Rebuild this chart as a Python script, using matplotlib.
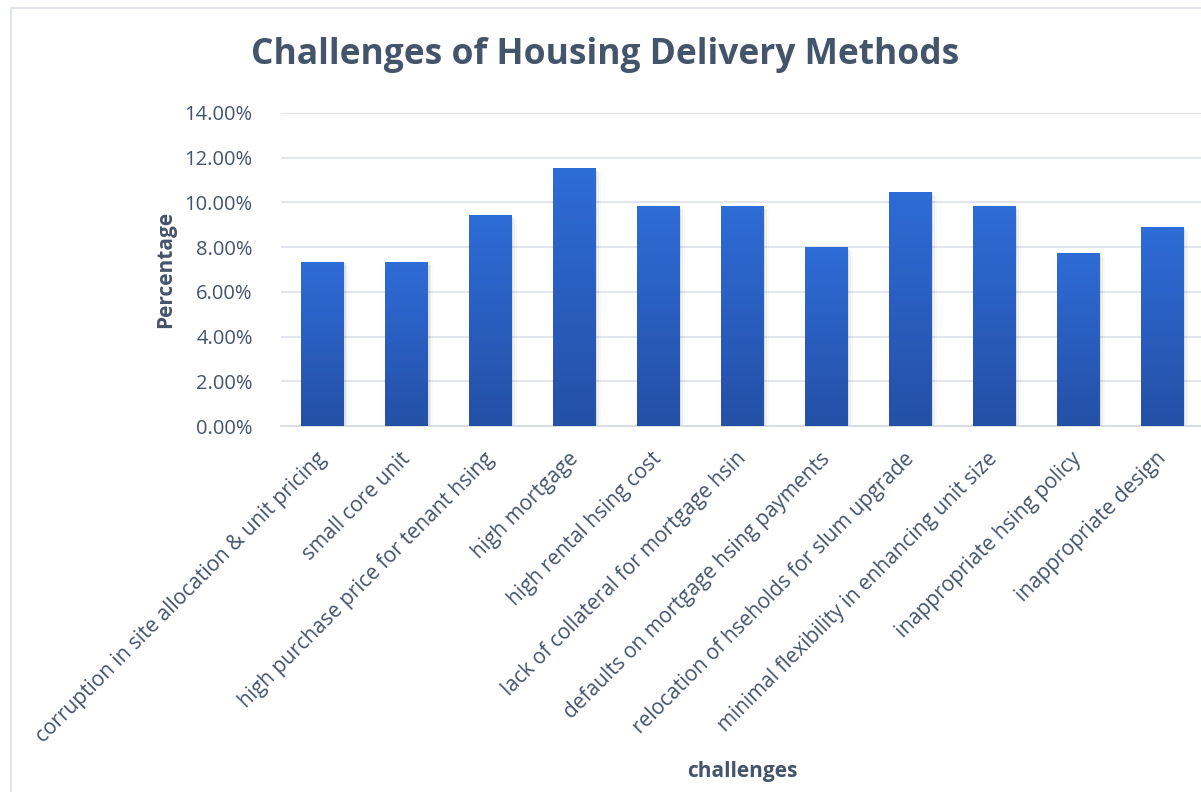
import matplotlib
matplotlib.use("Agg")
import matplotlib.pyplot as plt
import numpy as np
from matplotlib.patches import Rectangle
from matplotlib.colors import LinearSegmentedColormap
from matplotlib.ticker import FuncFormatter
from matplotlib.transforms import ScaledTranslation

categories = [
    "corruption in site allocation & unit pricing",
    "small core unit",
    "high purchase price for tenant hsing",
    "high mortgage",
    "high rental hsing cost",
    "lack of collateral for mortgage hsin",
    "defaults on mortgage hsing payments",
    "relocation of hseholds for slum upgrade",
    "minimal flexibility in enhancing unit size",
    "inappropriate hsing policy",
    "inappropriate design",
]
values = [7.33, 7.33, 9.42, 11.52, 9.82, 9.82, 7.99, 10.47, 9.82, 7.72, 8.90]
yticks = [0, 2, 4, 6, 8, 10, 12, 14]

TXT = "#44546a"
plt.rcParams['font.family'] = ['Open Sans', 'DejaVu Sans']

fig = plt.figure(figsize=(12.01, 7.92), dpi=100)
# outer chart border
fig.patches.append(Rectangle((11/1201, -0.01), 1.0, 1 - 8/792 + 0.01, transform=fig.transFigure,
                             fill=False, edgecolor="#d9dee6", linewidth=1.2))

ax = fig.add_axes([280.5/1201, 1 - 426/792, (1204 - 280.5)/1201, (426 - 113)/792])

cmap = LinearSegmentedColormap.from_list("g", ["#2450a6", "#2e6cd7"])
grad = np.linspace(0, 1, 256).reshape(-1, 1)
width = 0.51
x = np.arange(len(categories))
bars = ax.bar(x, values, width=width, color="none", zorder=3)
for b in bars:
    bx, by, bw, bh = b.get_x(), b.get_y(), b.get_width(), b.get_height()
    # soft shadow
    for k, a in enumerate([0.06, 0.04, 0.025]):
        sh = Rectangle((bx + 0.02 * (k + 1), by - 0.06 * (k + 1)), bw, bh, facecolor="#000000",
                       alpha=a, edgecolor="none", zorder=2)
        ax.add_patch(sh)
    im = ax.imshow(grad, extent=[bx, bx + bw, by, by + bh], origin="lower", cmap=cmap,
                   aspect="auto", zorder=3)
    im.set_clip_path(b)
ax.set_xlim(-0.5, len(categories) - 0.5)
ax.set_ylim(0, 14)

ax.set_yticks(yticks)
ax.yaxis.set_major_formatter(FuncFormatter(lambda v, p: f"{v:.2f}%"))
ax.grid(axis="y", color="#dfe3ea", linewidth=1.3, zorder=0)
ax.set_axisbelow(True)
for s in ["top", "right", "left"]:
    ax.spines[s].set_visible(False)
ax.spines["bottom"].set_color("#d6dbe3")
ax.spines["bottom"].set_linewidth(1.3)
ax.tick_params(axis="both", length=0, colors=TXT, labelsize=14.5)
ax.tick_params(axis="x", labelsize=15)
ax.tick_params(axis="y", pad=20)
ax.set_xticks(x)
ax.set_xticklabels(categories, rotation=45, ha="right", va="top", rotation_mode="default")
ax.tick_params(axis="x", pad=16)
off = ScaledTranslation(8/100, 0, fig.dpi_scale_trans)
for t in ax.get_xticklabels():
    t.set_color(TXT)
    t.set_transform(t.get_transform() + off)

ax.set_ylabel("Percentage", fontsize=15, fontweight="bold", color=TXT, labelpad=6)
fig.text(742/1201, 1 - 772/792, "challenges", fontsize=15, fontweight="bold", color=TXT,
         ha="center", va="center")
fig.text(605/1201, 1 - 55/792, "Challenges of Housing Delivery Methods", fontsize=25.5,
         fontweight="bold", color=TXT, ha="center", va="center")

fig.savefig("out.png", dpi=100)
